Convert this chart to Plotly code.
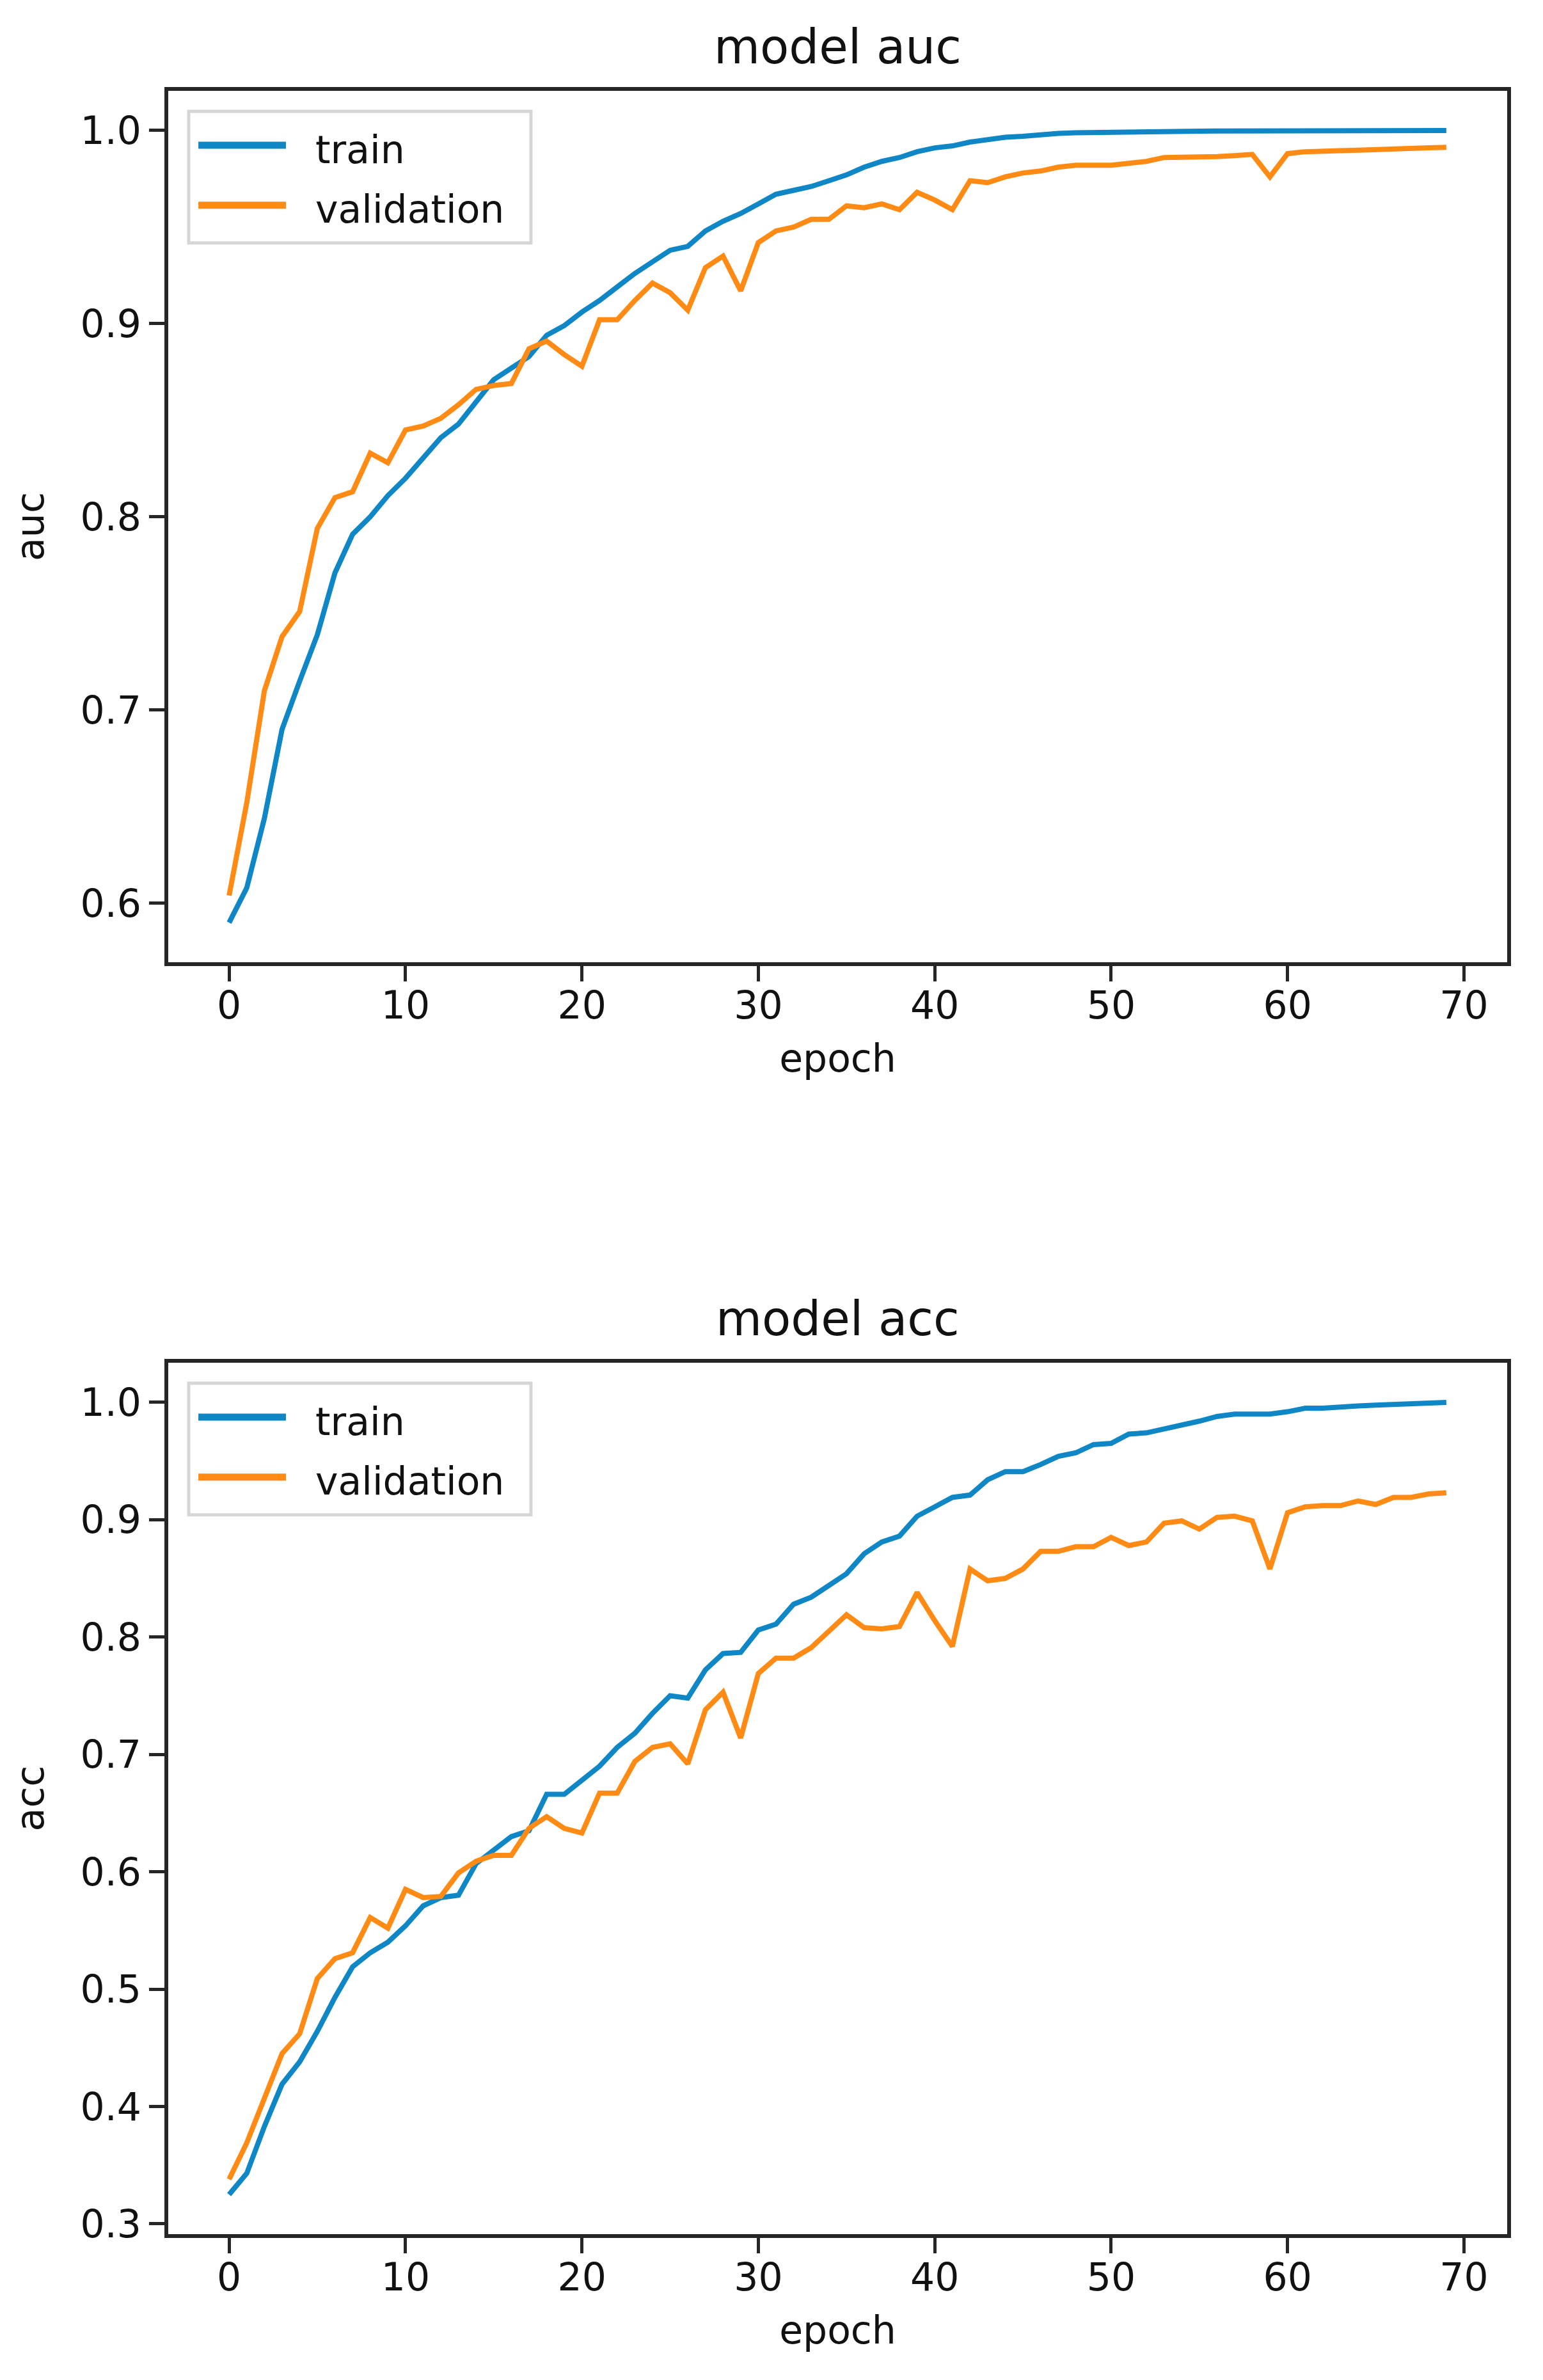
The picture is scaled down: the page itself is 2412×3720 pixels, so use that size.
import plotly.graph_objects as go

# training history values (70 epochs)
EPOCHS = list(range(70))

AUC_TRAIN = [
    0.590, 0.608, 0.644, 0.690, 0.715, 0.739, 0.771, 0.791, 0.800, 0.811,
    0.820, 0.831, 0.841, 0.848, 0.860, 0.871, 0.877, 0.883, 0.894, 0.899,
    0.906, 0.912, 0.919, 0.926, 0.932, 0.938, 0.940, 0.948, 0.953, 0.957,
    0.962, 0.967, 0.969, 0.971, 0.974, 0.977, 0.981, 0.984, 0.986, 0.989,
    0.991, 0.992, 0.994, 0.9954, 0.9965, 0.997, 0.998, 0.9985, 0.9988, 0.999,
    0.9992, 0.9993, 0.9994, 0.9995, 0.9996, 0.9996, 0.9997, 0.9997, 0.9998, 0.9998,
    0.9998, 0.9998, 0.9999, 0.9999, 0.9999, 0.9999, 0.9999, 1.0, 1.0, 1.0,
]
AUC_VAL = [
    0.604, 0.652, 0.710, 0.738, 0.751, 0.794, 0.810, 0.813, 0.833, 0.828,
    0.845, 0.847, 0.851, 0.858, 0.866, 0.868, 0.869, 0.887, 0.891, 0.884,
    0.878, 0.902, 0.902, 0.912, 0.921, 0.916, 0.907, 0.929, 0.935, 0.917,
    0.942, 0.948, 0.950, 0.954, 0.954, 0.961, 0.960, 0.962, 0.959, 0.968,
    0.964, 0.959, 0.974, 0.973, 0.976, 0.978, 0.979, 0.981, 0.982, 0.982,
    0.982, 0.983, 0.984, 0.986, 0.986, 0.986, 0.9865, 0.987, 0.9876, 0.976,
    0.988, 0.989, 0.989, 0.9895, 0.9898, 0.990, 0.990, 0.9905, 0.991, 0.9913,
]
ACC_TRAIN = [
    0.325, 0.343, 0.383, 0.419, 0.438, 0.464, 0.493, 0.519, 0.531, 0.540,
    0.554, 0.571, 0.578, 0.580, 0.607, 0.618, 0.630, 0.635, 0.666, 0.666,
    0.678, 0.690, 0.706, 0.718, 0.735, 0.750, 0.748, 0.772, 0.786, 0.787,
    0.806, 0.811, 0.828, 0.834, 0.844, 0.854, 0.871, 0.881, 0.886, 0.903,
    0.911, 0.919, 0.921, 0.934, 0.941, 0.941, 0.947, 0.954, 0.957, 0.964,
    0.965, 0.973, 0.974, 0.977, 0.981, 0.984, 0.988, 0.990, 0.990, 0.990,
    0.992, 0.995, 0.995, 0.9955, 0.997, 0.9976, 0.998, 0.999, 0.999, 1.000,
]
ACC_VAL = [
    0.338, 0.369, 0.407, 0.445, 0.462, 0.509, 0.526, 0.531, 0.561, 0.552,
    0.585, 0.578, 0.579, 0.599, 0.609, 0.614, 0.614, 0.637, 0.647, 0.637,
    0.633, 0.667, 0.667, 0.694, 0.706, 0.709, 0.692, 0.738, 0.753, 0.714,
    0.769, 0.782, 0.782, 0.791, 0.805, 0.819, 0.808, 0.807, 0.809, 0.838,
    0.814, 0.792, 0.858, 0.848, 0.850, 0.858, 0.873, 0.873, 0.877, 0.877,
    0.885, 0.878, 0.881, 0.897, 0.899, 0.892, 0.902, 0.903, 0.899, 0.858,
    0.906, 0.911, 0.912, 0.912, 0.916, 0.913, 0.919, 0.919, 0.922, 0.923,
]

SERIES_NAMES = ["train", "validation"]
PANEL_TITLES = ["model auc", "model acc"]
Y_LABELS = ["auc", "acc"]
X_LABEL = "epoch"
X_TICKS = [0, 10, 20, 30, 40, 50, 60, 70]

# styling
COLOR_TRAIN = "#0f86c6"
COLOR_VAL = "#ff8a14"
COLOR_AXIS = "#262626"
COLOR_TEXT = "#111111"
FONT = "DejaVu Sans"
FONT_SIZE_BODY = 60
FONT_SIZE_TITLE = 74
LINE_WIDTH = 8

FIG_W, FIG_H = 2412, 3720
X_DOMAIN = [255 / FIG_W, 2348 / FIG_W]
Y_DOMAINS = [
    [1 - 1496 / FIG_H, 1 - 134 / FIG_H],   # top panel
    [1 - 3484 / FIG_H, 1 - 2122 / FIG_H],  # bottom panel
]


def padded_range(values, frac=0.05):
    """matplotlib-style autoscale: data limits plus 5% margin"""
    lo, hi = min(values), max(values)
    pad = (hi - lo) * frac
    return [lo - pad, hi + pad]


panels = [(AUC_TRAIN, AUC_VAL), (ACC_TRAIN, ACC_VAL)]

fig = go.Figure()
shapes = []
annotations = []

for i, (train, val) in enumerate(panels):
    sfx = "" if i == 0 else str(i + 1)
    xref, yref = "x" + sfx, "y" + sfx

    for values, name, color in ((train, SERIES_NAMES[0], COLOR_TRAIN),
                                (val, SERIES_NAMES[1], COLOR_VAL)):
        fig.add_trace(go.Scatter(
            x=EPOCHS, y=values, mode="lines", name=name,
            line=dict(color=color, width=LINE_WIDTH),
            xaxis=xref, yaxis=yref, showlegend=False,
        ))

    x_range = padded_range(EPOCHS)
    y_range = padded_range(train + val)

    axis_common = dict(
        showline=True, linewidth=6, linecolor=COLOR_AXIS, mirror=True,
        ticks="outside", ticklen=24, tickwidth=5, tickcolor=COLOR_AXIS,
        showgrid=False, zeroline=False, automargin=False,
        tickfont=dict(size=FONT_SIZE_BODY, color=COLOR_TEXT, family=FONT),
    )
    fig.update_layout({
        "xaxis" + sfx: dict(
            axis_common, domain=X_DOMAIN, range=x_range, anchor=yref,
            tickvals=X_TICKS, ticklabelstandoff=-14,
            title=dict(text=X_LABEL, standoff=30,
                       font=dict(size=FONT_SIZE_BODY, color=COLOR_TEXT, family=FONT)),
        ),
        "yaxis" + sfx: dict(
            axis_common, domain=Y_DOMAINS[i], range=y_range, anchor=xref,
            dtick=0.1, tickformat=".1f",
            title=dict(text=Y_LABELS[i], standoff=40,
                       font=dict(size=FONT_SIZE_BODY, color=COLOR_TEXT, family=FONT)),
        ),
    })

    # panel title
    annotations.append(dict(
        text=PANEL_TITLES[i], xref=xref + " domain", yref=yref + " domain",
        x=0.5, y=1.051, xanchor="center", yanchor="middle", showarrow=False,
        font=dict(size=FONT_SIZE_TITLE, color=COLOR_TEXT, family=FONT),
    ))

    # legend box (matplotlib style, upper left)
    shapes.append(dict(
        type="rect", xref=xref + " domain", yref=yref + " domain",
        x0=0.0153, x1=0.2709, y0=0.8254, y1=0.9765,
        line=dict(color="#d6d6d6", width=5),
        fillcolor="rgba(255,255,255,0.8)", layer="above",
    ))
    for name, color, ly, ty in ((SERIES_NAMES[0], COLOR_TRAIN, 0.9376, 0.9325),
                                (SERIES_NAMES[1], COLOR_VAL, 0.8687, 0.8643)):
        shapes.append(dict(
            type="line", xref=xref + " domain", yref=yref + " domain",
            x0=0.0225, x1=0.0879, y0=ly, y1=ly,
            line=dict(color=color, width=LINE_WIDTH + 3), layer="above",
        ))
        annotations.append(dict(
            text=name, xref=xref + " domain", yref=yref + " domain",
            x=0.1089, y=ty, xanchor="left", yanchor="middle", showarrow=False,
            font=dict(size=FONT_SIZE_BODY, color=COLOR_TEXT, family=FONT),
        ))

fig.update_layout(
    width=FIG_W, height=FIG_H,
    margin=dict(l=0, r=0, t=0, b=0),
    paper_bgcolor="white", plot_bgcolor="white",
    font=dict(family=FONT, size=FONT_SIZE_BODY, color=COLOR_TEXT),
    shapes=shapes, annotations=annotations,
    showlegend=False,
)

fig.write_html("out.html")
